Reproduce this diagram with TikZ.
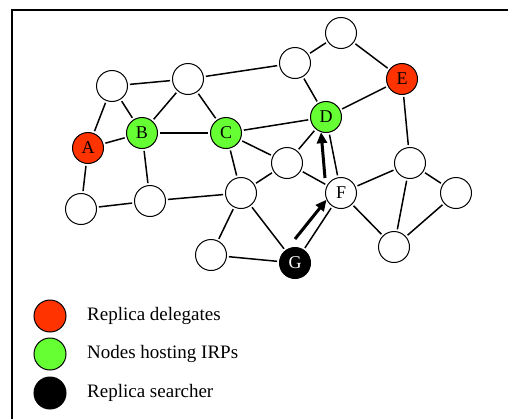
\documentclass[tikz,border=0pt]{standalone}
\usepackage{fontspec}
\setmainfont{Liberation Serif}
\usetikzlibrary{arrows.meta}
\definecolor{delegatered}{RGB}{255,51,0}
\definecolor{irpgreen}{RGB}{102,255,51}
\tikzset{
  peer/.style={circle, draw, line width=1pt, minimum size=31pt, inner sep=0pt,
    font=\fontsize{18}{18}\selectfont},
  link/.style={line width=1.5pt, shorten <=2pt, shorten >=2pt},
  hop/.style={line width=3pt, -{Triangle[length=11pt,width=10pt]}},
  legtext/.style={anchor=west, inner sep=0pt, font=\fontsize{19}{19}\selectfont}
}
\begin{document}
\begin{tikzpicture}[x=1pt,y=-1pt]
        \useasboundingbox (0,0) rectangle (508,418);
        \draw[line width=1.5pt] (12,420) -- (12,10) -- (510,10);
        % overlay peers
        \node[peer] (p1) at (112,86) {};
        \node[peer] (p2) at (188,79) {};
        \node[peer] (p3) at (295,63) {};
        \node[peer] (p4) at (341,33) {};
        \node[peer, fill=delegatered] (e) at (402,79) {E};
        \node[peer, fill=delegatered] (a) at (88,148) {A};
        \node[peer, fill=irpgreen] (b) at (142,133) {B};
        \node[peer, fill=irpgreen] (c) at (226,133) {C};
        \node[peer, fill=irpgreen] (d) at (326,117) {D};
        \node[peer] (p5) at (287,163) {};
        \node[peer] (p6) at (410,163) {};
        \node[peer] (f) at (341,193) {F};
        \node[peer] (p7) at (456,193) {};
        \node[peer] (p8) at (81,209) {};
        \node[peer] (p9) at (150,201) {};
        \node[peer] (p10) at (241,193) {};
        \node[peer] (p11) at (211,255) {};
        \node[peer, fill=black, text=white] (g) at (295,263) {G};
        \node[peer] (p12) at (394,247) {};
        % links
        \draw[link] (p1) -- (p2);
        \draw[link] (p2) -- (p3);
        \draw[link] (p3) -- (p4);
        \draw[link] (p4) -- (e);
        \draw[link] (p1) -- (a);
        \draw[link] (p1) -- (b);
        \draw[link] (p2) -- (b);
        \draw[link] (p2) -- (c);
        \draw[link] (p3) -- (d);
        \draw[link] (d) -- (e);
        \draw[link] (a) -- (b);
        \draw[link] (b) -- (c);
        \draw[link] (c) -- (d);
        \draw[link] (a) -- (p8);
        \draw[link] (b) -- (p9);
        \draw[link] (p8) -- (p9);
        \draw[link] (p9) -- (p10);
        \draw[link] (c) -- (p10);
        \draw[link] (c) -- (p5);
        \draw[link] (p5) -- (d);
        \draw[link] (p5) -- (f);
        \draw[link] (p10) -- (p5);
        \draw[link] (d) -- (f);
        \draw[link] (e) -- (p6);
        \draw[link] (f) -- (p6);
        \draw[link] (p6) -- (p7);
        \draw[link] (p6) -- (p12);
        \draw[link] (p7) -- (p12);
        \draw[link] (f) -- (p12);
        \draw[link] (p10) -- (p11);
        \draw[link] (p10) -- (g);
        \draw[link] (p11) -- (g);
        \draw[link] (g) -- (f);
        % search path G -> F -> D
        \coordinate (gstart) at (295,239);
        \coordinate (fstart) at (325,178);
        \draw[hop] (gstart) -- (f.205);
        \draw[hop] (fstart) -- (d.252);
        % legend
        \node[peer, minimum size=32pt, fill=delegatered] (l1) at (50,316) {};
        \node[peer, minimum size=32pt, fill=irpgreen] (l2) at (50,354) {};
        \node[peer, minimum size=32pt, fill=black] (l3) at (50,393) {};
        \node[legtext] (t1) at (87,316) {Replica delegates};
        \node[legtext] (t2) at (87,354) {Nodes hosting IRPs};
        \node[legtext] (t3) at (87,393) {Replica searcher};
\end{tikzpicture}
\end{document}
